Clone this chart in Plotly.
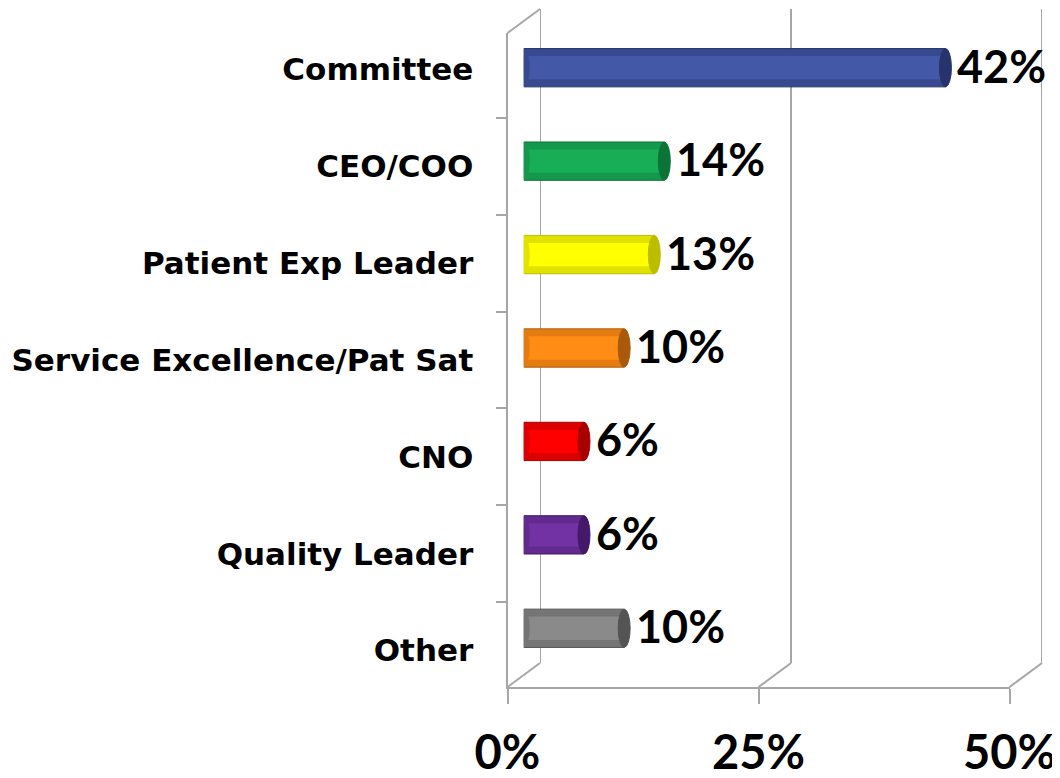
import plotly.graph_objects as go

# ---- data ----
categories = ["Committee", "CEO/COO", "Patient Exp Leader", "Service Excellence/Pat Sat",
              "CNO", "Quality Leader", "Other"]
values = [42, 14, 13, 10, 6, 6, 10]
tick_vals = [0, 25, 50]
tick_text = ["0%", "25%", "50%"]

# ---- styles ----
edge_colors = ["#37498F", "#14984E", "#E2E200", "#E57C12", "#DC0000", "#622A8E", "#757575"]
bar_colors = ["#4358A6", "#18AE55", "#FFFF00", "#FF8C14", "#FF0000", "#7332A3", "#8A8A8A"]
cap_colors = ["#27346B", "#0D7438", "#BDBD00", "#A85A0A", "#A80000", "#45196A", "#545454"]

# ---- geometry (page pixels) ----
PAGE_MARGIN = 8                                      # default body margin of the html page
W, H = 1060 - PAGE_MARGIN, 778 - PAGE_MARGIN
FX0, FX1, FTOP, FBOT = 507.5, 1009.5, 33, 687      # front plane
DX, DY = 32.5, -24                                   # depth offset to back plane
GRID = "#A6A6A6"


def px(x):
    return (x - PAGE_MARGIN) / W


def py(y):
    return 1 - (y - PAGE_MARGIN) / H


fig = go.Figure()

# back-wall gridlines on the back axes (one vertical per tick value)
gx, gy = [], []
for v in tick_vals:
    gx += [v, v, None]
    gy += [0, 1, None]
fig.add_trace(go.Scatter(x=gx, y=gy, mode="lines", line=dict(color=GRID, width=2),
                         xaxis="x2", yaxis="y2", cliponaxis=False,
                         hoverinfo="skip", showlegend=False))

# cylinder bars (mid depth): darker body + lighter central band
fig.add_trace(go.Bar(
    x=values, y=categories, orientation="h",
    marker=dict(color=edge_colors, line=dict(color=cap_colors, width=1)),
    width=0.41, xaxis="x3", yaxis="y3", hoverinfo="x+y",
))
fig.add_trace(go.Bar(
    x=values, y=categories, orientation="h",
    marker=dict(color=bar_colors, line=dict(width=0)),
    width=0.25, xaxis="x3", yaxis="y3", hoverinfo="skip",
))
# invisible helper to establish the front axes
fig.add_trace(go.Scatter(x=[0] * len(categories), y=categories, mode="markers",
                         marker=dict(opacity=0), xaxis="x", yaxis="y",
                         hoverinfo="skip", showlegend=False))

label_font = dict(family="DejaVu Sans", size=31, color="black", weight="bold")
big_font = dict(family="Lato, Open Sans, sans-serif", size=47, color="black", weight="bold")

fig.update_layout(
    width=W, height=H, barmode="overlay",
    margin=dict(l=0, r=0, t=0, b=0, autoexpand=False),
    paper_bgcolor="white", plot_bgcolor="rgba(0,0,0,0)",
    showlegend=False,
    xaxis=dict(domain=[px(FX0), px(FX1)], range=[0, 50], anchor="y", automargin=False,
               showline=True, linecolor=GRID, linewidth=2,
               ticks="outside", ticklen=15, tickwidth=2, tickcolor=GRID,
               tickvals=tick_vals, ticktext=tick_text, tickfont=big_font,
               ticklabelstandoff=9, ticklabeloverflow="allow",
               showgrid=False, zeroline=False),
    yaxis=dict(domain=[py(FBOT), py(FTOP)], type="category", automargin=False,
               categoryorder="array", categoryarray=categories,
               autorange="reversed", anchor="x",
               showline=True, linecolor=GRID, linewidth=2,
               ticks="outside", tickson="boundaries", ticklen=10, tickwidth=2,
               tickcolor=GRID, tickfont=label_font, ticklabelstandoff=26,
               ticklabeloverflow="allow",
               showgrid=False, zeroline=False),
    xaxis2=dict(domain=[px(FX0 + DX), px(FX1 + DX)], range=[0, 50], anchor="y2",
                automargin=False, visible=False),
    yaxis2=dict(domain=[py(FBOT + DY), py(FTOP + DY)], range=[0, 1], anchor="x2",
                automargin=False, visible=False),
    xaxis3=dict(domain=[px(FX0 + DX / 2), px(FX1 + DX / 2)], range=[0, 50],
                anchor="y3", automargin=False, visible=False),
    yaxis3=dict(domain=[py(FBOT + DY / 2), py(FTOP + DY / 2)], type="category",
                categoryorder="array", categoryarray=categories, automargin=False,
                autorange="reversed", anchor="x3", visible=False),
)

shapes = []


def fx(v):
    """front-plane pixel position of an axis value"""
    return FX0 + (FX1 - FX0) * v / 50


# depth diagonals
shapes.append(dict(type="line", xref="paper", yref="paper",
                   x0=px(FX0), y0=py(FTOP), x1=px(FX0 + DX), y1=py(FTOP + DY),
                   line=dict(color=GRID, width=2)))
for v in tick_vals:
    shapes.append(dict(type="line", xref="paper", yref="paper",
                       x0=px(fx(v)), y0=py(FBOT), x1=px(fx(v) + DX), y1=py(FBOT + DY),
                       line=dict(color=GRID, width=2)))

# cylinder caps
half = 0.205
for i, (v, cc) in enumerate(zip(values, cap_colors)):
    shapes.append(dict(type="circle", xref="x3", yref="y3", xsizemode="pixel",
                       xanchor=0, x0=-6, x1=6, y0=i - half, y1=i + half,
                       fillcolor=edge_colors[i], line=dict(width=0), layer="above"))
    shapes.append(dict(type="circle", xref="x3", yref="y3", xsizemode="pixel",
                       xanchor=v, x0=-6, x1=6, y0=i - half, y1=i + half,
                       fillcolor=cc, line=dict(color=cc, width=1), layer="above"))
fig.update_layout(shapes=shapes)

# value labels
for cat, v in zip(categories, values):
    fig.add_annotation(x=v, y=cat, xref="x3", yref="y3", text=f"{v}%",
                       showarrow=False, xanchor="left", xshift=10, yshift=2,
                       font=dict(family="Lato, Open Sans, sans-serif", size=45,
                                 color="black", weight="bold"))

fig.write_html("out.html")
